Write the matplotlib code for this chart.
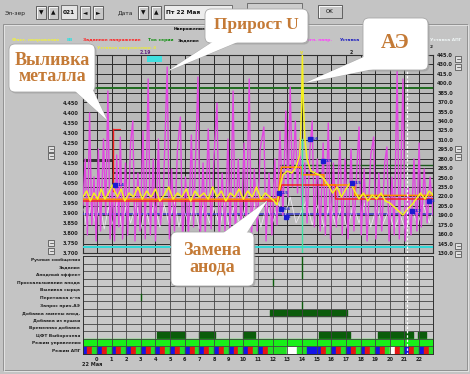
import matplotlib
matplotlib.use("Agg")
import matplotlib.pyplot as plt
from matplotlib.patches import Rectangle, FancyBboxPatch, Polygon

W, H = 470, 374
PANEL = "#c4c4c4"
CHART_BG = "#bababa"
GRID = "#2b2b2b"

# ---- values ----
hours = list(range(0, 23))
hour_labels = [str(h) for h in hours]

volt_ticks = [3.70, 3.75, 3.80, 3.85, 3.90, 3.95, 4.00, 4.05,
              4.10, 4.15, 4.20, 4.25, 4.30, 4.35, 4.40, 4.45]
volt_labels = ["3.700", "3.750", "3.800", "3.850", "3.900", "3.950", "4.000", "4.050",
               "4.100", "4.150", "4.200", "4.250", "4.300", "4.350", "4.400", "4.450"]
amp_ticks = [130, 145, 160, 175, 190, 205, 220, 235, 250, 265, 280,
             295, 310, 325, 340, 355, 370, 385, 400, 415, 430, 445]
amp_labels = ["130.0", "145.0", "160.0", "175.0", "190.0", "205.0", "220.0", "235.0",
              "250.0", "265.0", "280.0", "295.0", "310.0", "325.0", "340.0", "355.0",
              "370.0", "385.0", "400.0", "415.0", "430.0", "445.0"]

# magenta (noisy voltage) trace: (hour, volts)
magenta_pts = [
    (-0.95, 3.94), (-0.8, 4.17), (-0.65, 3.79), (-0.5, 4.40), (-0.35, 3.84), (-0.2, 4.08),
    (-0.05, 3.76), (0.1, 4.22), (0.25, 3.81), (0.45, 4.27), (0.6, 3.89), (0.75, 4.51),
    (0.9, 3.77), (1.05, 4.03), (1.2, 3.76), (1.35, 4.19), (1.5, 3.83), (1.6, 4.28),
    (1.75, 3.77), (1.95, 4.15), (2.1, 3.79), (2.3, 4.25), (2.45, 4.36), (2.6, 3.76),
    (2.8, 4.10), (2.95, 3.81), (3.15, 4.31), (3.3, 3.77), (3.5, 4.57), (3.65, 3.79),
    (3.85, 4.17), (4.0, 3.76), (4.2, 4.27), (4.35, 3.84), (4.55, 4.03), (4.8, 4.63),
    (4.95, 3.77), (5.1, 4.12), (5.3, 3.81), (5.5, 4.22), (5.7, 4.38), (5.85, 3.76),
    (6.05, 4.08), (6.25, 3.79), (6.45, 4.29), (6.6, 3.83), (6.9, 4.58), (7.05, 3.76),
    (7.25, 4.15), (7.4, 3.79), (7.6, 4.32), (7.8, 3.82), (8.0, 4.19), (8.2, 4.45),
    (8.35, 3.76), (8.55, 4.10), (8.75, 3.81), (8.95, 4.27), (9.1, 3.79), (9.3, 4.51),
    (9.45, 3.77), (9.65, 4.17), (9.85, 3.82), (10.05, 4.25), (10.2, 3.79), (10.4, 4.57),
    (10.55, 3.77), (10.75, 4.12), (10.95, 3.81), (11.15, 4.22), (11.4, 4.33), (11.55, 3.76),
    (11.75, 4.10), (11.95, 3.79), (12.15, 4.17), (12.3, 3.84), (12.5, 4.31), (12.7, 3.89),
    (12.9, 4.41), (13.05, 3.98), (13.2, 4.53), (13.35, 4.03), (13.55, 4.36), (13.7, 4.00),
    (13.85, 4.27), (14.0, 3.94), (14.2, 4.15), (14.35, 3.85), (14.55, 4.22), (14.7, 4.36),
    (14.85, 3.83), (15.05, 4.17), (15.25, 3.81), (15.45, 4.25), (15.6, 3.79), (15.8, 4.35),
    (15.95, 3.77), (16.15, 4.15), (16.35, 3.83), (16.6, 4.28), (16.75, 3.79), (16.95, 4.17),
    (17.15, 3.77), (17.35, 4.22), (17.55, 3.81), (17.75, 4.12), (17.9, 4.33), (18.05, 3.79),
    (18.25, 4.12), (18.45, 3.76), (18.7, 4.19), (18.9, 4.28), (19.05, 3.77), (19.25, 4.10),
    (19.45, 3.81), (19.65, 4.15), (19.8, 4.23), (19.95, 3.76), (20.15, 4.08), (20.3, 3.79),
    (20.5, 4.61), (20.65, 3.77), (20.9, 4.57), (21.05, 3.76), (21.25, 4.03), (21.45, 3.79),
    (21.65, 4.17), (21.85, 3.81), (22.0, 4.25), (22.15, 3.83), (22.35, 4.12), (22.55, 3.85),
    (22.75, 4.08), (22.95, 3.89)]

# light (white) jitter under the voltage band
white_pts = [
    (-0.9, 3.92), (-0.7, 3.83), (-0.4, 3.94), (-0.1, 3.85), (0.2, 3.95), (0.5, 3.82),
    (0.8, 3.93), (1.1, 3.84), (1.4, 3.96), (1.7, 3.83), (2.0, 3.94), (2.3, 3.85),
    (2.7, 3.95), (3.0, 3.82), (3.3, 3.93), (3.6, 3.84), (3.9, 3.95), (4.3, 3.83),
    (4.6, 3.94), (4.9, 3.85), (5.3, 3.96), (5.6, 3.83), (5.9, 3.92), (6.3, 3.84),
    (6.6, 3.95), (7.0, 3.82), (7.3, 3.94), (7.7, 3.85), (8.0, 3.93), (8.4, 3.83),
    (8.7, 3.95), (9.0, 3.84), (9.4, 3.94), (9.8, 3.82), (10.1, 3.93), (10.5, 3.85),
    (10.8, 3.95), (11.2, 3.83), (11.6, 3.94), (12.0, 3.85), (12.4, 3.95), (12.8, 3.87),
    (13.2, 3.98), (13.6, 3.85), (14.3, 3.96), (14.7, 3.84), (15.1, 3.94), (15.5, 3.83),
    (15.9, 3.95), (16.3, 3.84), (16.7, 3.93), (17.1, 3.82), (17.5, 3.94), (17.9, 3.85),
    (18.3, 3.95), (18.7, 3.83), (19.1, 3.93), (19.5, 3.84), (19.9, 3.91), (20.3, 3.82),
    (20.7, 3.89), (21.1, 3.81), (21.5, 3.92), (21.9, 3.84), (22.3, 3.94), (22.7, 3.85),
    (22.95, 3.91)]

# yellow (actual voltage) with the anode effect at 14 h
yellow_pts = [
    (-0.95, 3.98), (-0.7, 4.01), (-0.45, 3.96), (-0.2, 4.00), (0.05, 3.97), (0.3, 4.02),
    (0.55, 3.97), (0.8, 4.00), (1.05, 4.04), (1.2, 4.01), (1.4, 3.98), (1.65, 4.02),
    (1.9, 3.96), (2.2, 4.00), (2.5, 3.98), (2.8, 4.03), (3.1, 3.97), (3.4, 4.01),
    (3.7, 3.98), (4.0, 4.02), (4.3, 3.96), (4.6, 3.99), (4.9, 4.03), (5.2, 3.97),
    (5.5, 4.00), (5.8, 3.98), (6.1, 4.02), (6.4, 3.96), (6.7, 4.01), (7.0, 3.98),
    (7.3, 4.00), (7.6, 3.97), (7.9, 4.03), (8.2, 3.98), (8.5, 4.01), (8.8, 3.96),
    (9.1, 4.00), (9.4, 3.98), (9.7, 4.02), (10.0, 3.97), (10.3, 4.01), (10.6, 3.98),
    (10.9, 4.03), (11.2, 3.97), (11.5, 4.00), (11.8, 3.98), (12.1, 3.96), (12.3, 3.94),
    (12.5, 4.03), (12.7, 4.09), (13.0, 4.11), (13.3, 4.10), (13.6, 4.13), (13.85, 4.19),
    (13.97, 4.41), (14.03, 4.69), (14.1, 4.45), (14.2, 4.27), (14.35, 4.17), (14.6, 4.11),
    (14.9, 4.10), (15.2, 4.09), (15.5, 4.07), (15.8, 4.04), (16.1, 4.00), (16.4, 4.03),
    (16.7, 3.98), (17.0, 4.02), (17.3, 4.05), (17.6, 4.01), (17.9, 3.97), (18.2, 4.00),
    (18.5, 3.96), (18.8, 3.99), (19.1, 3.97), (19.4, 4.00), (19.7, 3.96), (20.0, 3.95),
    (20.3, 3.93), (20.6, 3.91), (20.9, 3.89), (21.2, 3.92), (21.5, 3.94), (21.8, 3.97),
    (22.1, 4.00), (22.4, 3.97), (22.7, 4.01), (22.95, 3.99)]

# setpoint steps
orange_pts = [(-0.95, 3.969), (12.35, 3.969), (12.6, 4.129), (14.0, 4.129), (14.0, 4.091),
              (15.5, 4.091), (15.5, 4.04), (17.6, 4.04), (17.6, 3.988), (22.95, 3.988)]
red_pts = [(-0.95, 3.96), (12.4, 3.96), (12.6, 4.04), (16.3, 4.04), (16.3, 3.97), (22.95, 3.97)]
black_pts = [(-0.95, 4.16), (1.1, 4.16), (1.1, 4.10), (22.95, 4.10)]
green_hi = 4.525
green_mid_start, green_mid = 12.5, 4.14
blue_level = 3.895
cyan_level = 3.73
tap_hour, tap_lo, tap_hi = 1.1, 4.01, 4.32
ae_hour, ae_top = 14.0, 4.27
now_hour, now_top = 21.15, 4.64

# blue event markers on the chart
marker_pts = [(1.25, 4.04, "1.4"), (12.45, 4.00, "2.5"), (12.6, 3.92, "6.6"), (12.9, 3.88, "2"),
              (14.55, 4.27, "6.6"), (15.45, 4.16, "3.5"), (17.45, 4.05, "3.5"),
              (21.55, 3.91, "3.2"), (22.7, 3.96, "3")]

# event strip
event_rows = ["Ручные сообщения", "Задание", "Анодный эффект", "Проскальзывание анода",
              "Выливка сырца", "Перетяжка к-та", "Запрос прич.АЭ", "Добавка замены анод.",
              "Добавка из пушки", "Временная добавка", "ЦФТ Выборочная",
              "Режим управления", "Режим АПГ"]
cft_start = [4.1, 7.0, 10.0, 15.15, 19.2, 21.9]
cft_end = [6.0, 8.05, 10.8, 17.3, 21.6, 22.5]
anode_start = [11.8]
anode_end = [17.1]
mark_hours = [14.0, 14.0, 14.0, 12.0, 3.0, 14.0]
mark_rows = [0, 1, 2, 3, 5, 6]
apg_hours = list(range(-1, 23))
apg_codes = ["BRG", "BRG", "BRG", "BRG", "BRG", "BRG", "BRG", "BRG", "BRG", "BRG", "BRG",
             "BRG", "BRG", "GGG", "WWG", "GBB", "BRG", "BRG", "BRG", "BRG", "BRG", "WRG",
             "BRG", "BRG"]
APG_COL = {"B": "#1414e6", "R": "#e61414", "G": "#22e022", "W": "#ffffff"}


def frac(x0, y0, x1, y1):
    return [x0 / W, 1 - y1 / H, (x1 - x0) / W, (y1 - y0) / H]


fig = plt.figure(figsize=(W / 100, H / 100), dpi=100)
fig.patch.set_facecolor(PANEL)

# ---- main chart: current scale (right) carries the grid ----
axa = fig.add_axes(frac(83, 55, 433, 253))
ax = axa.twinx()  # voltage scale (left) carries the traces

axa.set_facecolor(CHART_BG)
axa.set_xlim(-0.95, 22.95)
axa.set_ylim(130, 445)
axa.set_xticks(hours)
axa.set_xticklabels([])
axa.yaxis.tick_right()
axa.yaxis.set_label_position("right")
axa.set_yticks(amp_ticks)
axa.set_yticklabels(amp_labels, fontsize=3.6, fontweight="bold", color="#202020")
axa.tick_params(length=0, pad=3)
axa.grid(True, color=GRID, lw=0.7)
for s in axa.spines.values():
    s.set_color("#303030")
    s.set_linewidth(0.8)

ax.yaxis.tick_left()
ax.yaxis.set_label_position("left")
ax.set_ylim(3.70, 4.69)
ax.set_yticks(volt_ticks)
ax.set_yticklabels(volt_labels, fontsize=3.6, fontweight="bold", color="#202020")
ax.tick_params(length=0, pad=3)
for s in ax.spines.values():
    s.set_visible(False)

ax.axhline(green_hi, color="#1e6a1e", lw=1.4)
ax.plot([green_mid_start, 22.95], [green_mid, green_mid], color="#1e5a1e", lw=1.0)
ax.axhline(blue_level, color="#3030c0", lw=1.1)
ax.axhline(cyan_level, color="#30d8d8", lw=1.4)
ax.plot(*zip(*black_pts), color="#101010", lw=1.1)

ax.plot(*zip(*white_pts), color="#f4eef8", lw=0.6, alpha=0.85)
ax.plot(*zip(*magenta_pts), color="#e048e0", lw=1.0)
ax.plot(*zip(*red_pts), color="#f02020", lw=1.1)
ax.plot(*zip(*orange_pts), color="#ff8a00", lw=1.1)
ax.plot([tap_hour, tap_hour], [tap_lo, tap_hi], color="#f02020", lw=1.0)
ax.plot([tap_hour, tap_hour + 0.5], [tap_hi, tap_hi], color="#f02020", lw=0.8)
ax.plot([ae_hour, ae_hour], [3.70, ae_top], color="#40e0a0", lw=1.0)
ax.plot(*zip(*yellow_pts), color="#f4f020", lw=1.1)
ax.plot([now_hour, now_hour], [3.70, now_top], color="white", lw=0.9, ls=(0, (2, 1.5)))

for t, v, lab in marker_pts:
    ax.plot(t, v, marker="s", ms=2.3, color="#1a1ad0", ls="none")
    ax.text(t + 0.15, v, lab, fontsize=2.8, color="#1a1ad0", va="center", fontweight="bold")

# ---- event strip ----
ev = fig.add_axes(frac(83, 256, 433, 354))
ev.set_facecolor("#c9c9c9")
ev.set_xlim(-0.95, 22.95)
ev.set_ylim(13, 0)
ev.set_yticks([i + 0.5 for i in range(len(event_rows))])
ev.set_yticklabels(event_rows, fontsize=3.2, fontweight="bold", color="#202020")
ev.set_xticks(hours)
ev.set_xticklabels(hour_labels, fontsize=3.6, fontweight="bold", color="#202020")
ev.tick_params(length=0, pad=2)
for i in range(1, len(event_rows)):
    ev.axhline(i, color="#444444", lw=0.6)
for h in hours:
    ev.axvline(h, color="#444444", lw=0.6)
for s in ev.spines.values():
    s.set_color("#303030")
    s.set_linewidth(0.7)

ev.broken_barh([(a, b - a) for a, b in zip(cft_start, cft_end)], (10.1, 0.8), color="#0b5c0b")
ev.broken_barh([(a, b - a) for a, b in zip(anode_start, anode_end)], (7.1, 0.8), color="#0b5c0b")
ev.broken_barh([(-0.95, 23.9)], (11.05, 0.9), color="#18f018")
for h, code in zip(apg_hours, apg_codes):
    for k, c in enumerate(code):
        ev.broken_barh([(h + k / 3, 1 / 3)], (12.05, 0.9), color=APG_COL[c])
for h, r in zip(mark_hours, mark_rows):
    ev.plot([h, h], [r + 0.1, r + 0.9], color="#0b5c0b", lw=1.0)
ev.plot([now_hour, now_hour], [0, 13], color="white", lw=0.9, ls=(0, (2, 1.5)))

# ---- window chrome drawn in pixel coordinates ----
ov = fig.add_axes([0, 0, 1, 1])
ov.set_xlim(0, W)
ov.set_ylim(H, 0)
ov.axis("off")
ov.patch.set_alpha(0)

ov.add_patch(Rectangle((3, 24), 464, 346, fill=False, ec="#8a8a8a", lw=0.6))
ov.add_patch(Rectangle((4, 25), 464, 346, fill=False, ec="#eeeeee", lw=0.5))


def button(x0, y0, x1, y1, label=None, fs=4.2):
    ov.add_patch(Rectangle((x0, y0), x1 - x0, y1 - y0, fc="#c8c8c8", ec="#505050", lw=0.6))
    ov.plot([x0 + 0.7, x0 + 0.7, x1 - 0.9], [y1 - 0.9, y0 + 0.7, y0 + 0.7], color="white", lw=0.6)
    if label:
        ov.text((x0 + x1) / 2, (y0 + y1) / 2 + 0.3, label, ha="center", va="center",
                fontsize=fs, color="#101010")


def field(x0, y0, x1, y1, label, fc):
    ov.add_patch(Rectangle((x0, y0), x1 - x0, y1 - y0, fc=fc, ec="#606060", lw=0.6))
    ov.text(x0 + 2, (y0 + y1) / 2 + 0.3, label, ha="left", va="center", fontsize=4.2,
            fontweight="bold", color="#101010")


ov.text(5, 13, "Эл-зер", fontsize=4.3, va="center", color="#202020")
button(36, 6, 46, 19, "▼")
button(48, 6, 58, 19, "▲")
field(61, 5, 77, 19, "021", "#e4e4e4")
button(80, 6, 90, 19, "◄")
button(93, 6, 103, 19, "►")
ov.text(118, 13, "Дата", fontsize=4.3, va="center", color="#202020")
button(138, 6, 148, 19, "▼")
button(151, 6, 161, 19, "▲")
field(164, 5, 232, 19, "Пт 22 Мая", "#ececec")
field(247, 3, 302, 16, "", "#cdcdcd")
button(318, 5, 342, 18, "OK", fs=4.0)

# legend line
ov.text(190, 29, "Напряжение", fontsize=3.2, fontweight="bold", ha="center", va="center")
legend_items = [("Факт. напряжение", 12, 40, "#f0f040"), ("ЕВ", 67, 40, "#30e0e0"),
                ("Заданное напряжение", 83, 40, "#ff2020"), ("Ток серии", 148, 40, "#109010"),
                ("Задание", 178, 40, "#101010"), ("Прогн. напр.", 300, 40, "#ff40ff"),
                ("Уставка", 340, 40, "#2020c0"), ("Уставка АПГ", 430, 40, "#eef4f4"),
                ("Уставка напряжения: 4", 97, 48, "#e8e840"), ("2", 430, 47, "#202020")]
for lab, x, y, c in legend_items:
    ov.text(x, y, lab, fontsize=3.2, fontweight="bold", color=c, va="center")

ov.text(140, 52, "2.19", fontsize=3.3, fontweight="bold", color="#602080", va="center")
ov.add_patch(Rectangle((147, 56), 15, 6, fc="#40e0e0", ec="none"))
ov.text(350, 52, "2", fontsize=3.3, fontweight="bold", color="#202020", va="center")
ov.text(300, 52, "v", fontsize=3.5, fontweight="bold", color="#e8e020", va="center")
ov.text(82, 365, "22 Мая", fontsize=3.6, fontweight="bold", color="#202020", va="center")

for x, y in [(455, 56), (455, 64), (455, 146), (455, 154), (455, 243), (455, 251),
             (48, 146), (48, 153), (48, 240), (48, 248)]:
    ov.add_patch(Rectangle((x, y), 6, 6, fc="#e0e0e0", ec="#404040", lw=0.5))
    ov.plot([x + 1.5, x + 4.5], [y + 3, y + 3], color="#404040", lw=0.5)

TXT = "#c47a36"


def callout(x0, y0, x1, y1, tail, lines, fs):
    ov.add_patch(FancyBboxPatch((x0 + 1.5, y0 + 1.5), x1 - x0, y1 - y0,
                                boxstyle="round,pad=0,rounding_size=6", fc="#9a9a9a",
                                ec="none", alpha=0.6, zorder=3))
    ov.add_patch(Polygon(tail, closed=True, fc="white", ec="#a8a8a8", lw=0.6, zorder=4))
    ov.add_patch(FancyBboxPatch((x0, y0), x1 - x0, y1 - y0,
                                boxstyle="round,pad=0,rounding_size=6", fc="white",
                                ec="#a8a8a8", lw=0.6, zorder=5))
    ov.add_patch(Polygon(tail, closed=True, fc="white", ec="none", zorder=6))
    for text, ty in lines:
        ov.text((x0 + x1) / 2, ty, text, ha="center", va="center", fontsize=fs,
                family="Liberation Serif", fontweight="bold", color=TXT, zorder=7)


callout(9, 44, 95, 92, [(74, 90), (90, 84), (107, 120)],
        [("Выливка", 60), ("металла", 76)], 13)
callout(205, 9, 308, 43, [(214, 41), (240, 41), (168, 71)],
        [("Прирост U", 25)], 12.5)
callout(363, 18, 428, 70, [(366, 56), (378, 68), (305, 83)],
        [("АЭ", 43)], 15)
callout(171, 232, 254, 286, [(222, 234), (246, 234), (267, 201)],
        [("Замена", 250), ("анода", 267)], 13)

fig.savefig("out.png", dpi=100, facecolor=fig.get_facecolor())
